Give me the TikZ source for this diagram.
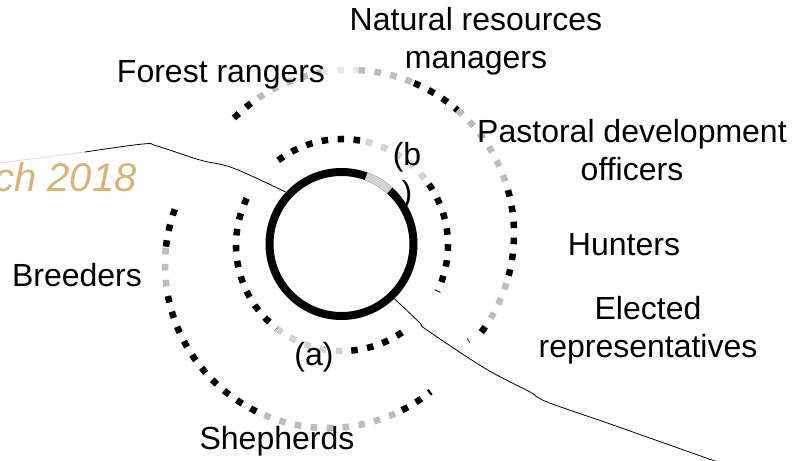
\documentclass[tikz,border=0pt]{standalone}
\usepackage{fontspec}
\setmainfont{Liberation Sans}
\usetikzlibrary{positioning}
\definecolor{rgGray}{RGB}{188,188,188}
\definecolor{rgSoft}{RGB}{210,210,210}
\definecolor{rgPale}{RGB}{232,232,232}
\definecolor{rgTan}{RGB}{214,180,122}
\tikzset{
    base/.style={font=\fontsize{24}{28.5}\selectfont, align=center, inner sep=0pt},
    actor/.style={base, text=black},
    ringdots/.style={line width=4.9pt, dash pattern=on 4.9pt off 7.1pt},
    hub/.style={circle, draw=black, line width=6pt, minimum size=108pt, inner sep=0pt},
    trace/.style={black, line width=0.6pt},
    stub/.style={black, line width=0.4pt}
}

\begin{document}
\begin{tikzpicture}[x=0.75pt, y=0.75pt]
  \useasboundingbox (0,0) rectangle (794,461);
  \clip (0,0) rectangle (794,461);

  % Centres of the rings
  \coordinate (upC) at (350,227);
  \coordinate (lowC) at (328,196);
  \coordinate (midC) at (342,216);

  % Central circle
  \node[hub] (core) at (341.5,217) {};
  \draw[rgSoft, line width=6pt] (core.center) ++(48:72) arc[start angle=48, end angle=70, radius=72];

  % Middle ring
  \foreach \a/\b/\col in {127/77/black, 77/35/rgSoft, 35/-26/black,
                          154/232/black, 232/275/rgSoft, 275/306/black} {
    \draw[ringdots, \col] (midC) ++(\a:106) arc[start angle=\a, end angle=\b, radius=106];
  }

  % Outer ring, upper part
  \foreach \a/\b/\col in {135/124/black, 124/100/rgGray, 100/87/rgPale, 87/67/rgGray,
                          67/49/black, 49/15.5/rgGray, 15.5/-17.5/black,
                          -17.5/-34.5/rgGray, -34.5/-39/black} {
    \draw[ringdots, \col] (upC) ++(\a:164) arc[start angle=\a, end angle=\b, radius=164];
  }

  % Outer ring, lower part
  \foreach \a/\b/\col in {160/174/black, 174/191/rgGray, 191/247/black,
                          247/297/rgGray, 297/309/black} {
    \draw[ringdots, \col] (lowC) ++(\a:163) arc[start angle=\a, end angle=\b, radius=163];
  }

  % Small marks at arc ends
  \draw[stub] (243,264) -- (249,261);
  \draw[stub] (467,123) -- (470,118);

  % Date, cut at the left edge
  \node[base, text=rgTan, font=\fontsize{30}{36}\selectfont\itshape, anchor=base west] (date) at (-6,269) {ch 2018};

  % Thin traces
  \coordinate (westEnd) at (0,298);
  \coordinate (westBend) at (85,309);
  \coordinate (southEnd) at (726,-4);
  \draw[rgSoft, line width=0.5pt] (westEnd) -- (westBend);
  \draw[trace] plot[smooth, tension=0.6] coordinates {(westBend) (143,317) (157,315) (200,301) (233,293) (core.137)};
  \draw[trace] plot[smooth, tension=0.5] coordinates {(core.-46) (420,138) (424,133) (467,104) (493,88) (530,69) (547,59) (613,36) (southEnd)};

  % Labels
  \node[actor] (natres) at (476,420) {Natural resources\\managers};
  \node[actor] (forest) at (221,386) {Forest rangers};
  \node[actor] (pastoral) at (632,311) {Pastoral development\\officers};
  \node[actor] (hunters) at (624,216) {Hunters};
  \node[actor] (elected) at (648,131) {Elected\\representatives};
  \node[actor] (breeders) at (77,186) {Breeders};
  \node[actor] (shepherds) at (277,20) {Shepherds};
  \node[actor] (tagA) at (314,104) {(a)};
  \node[actor] (tagB) at (407,285) {(b\\)};
\end{tikzpicture}
\end{document}
